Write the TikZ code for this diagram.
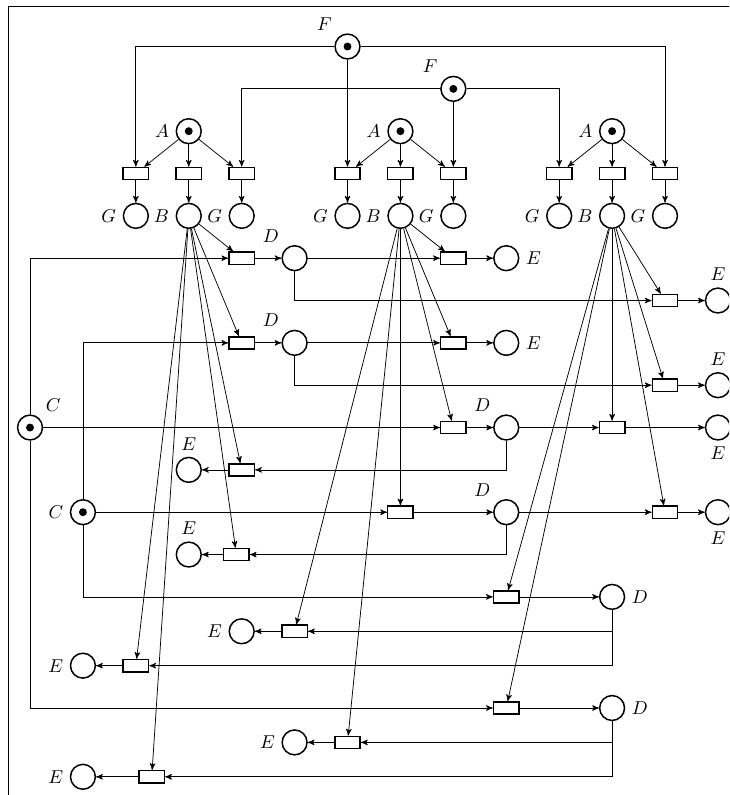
\documentclass[tikz,border=0pt]{standalone}
\usepackage{amsmath,amssymb}
\usepackage{tikz}
\usetikzlibrary{arrows}
\tikzstyle{place}=[circle, draw, thick, minimum size=4.7mm, inner sep=0pt]
\tikzstyle{transition}=[rectangle, draw, thick, minimum width=4.8mm,
minimum height=2.3mm, inner sep=0pt]
\tikzstyle{marked}=[path picture={\fill (path picture bounding box.center) circle (0.75mm);}]
\tikzstyle{flow}=[->,>=stealth']
\begin{document}
\begin{tikzpicture}
  \useasboundingbox (-0.567,0.879) rectangle (13.209,-14.144);
  \clip (-0.567,0.879) rectangle (13.209,-14.144);
  \draw (-0.416,0.752) rectangle (13.8,-14.8);
  % upper part: F, A, G, B
  \node [place, marked, label=above left:$F$] (f1) at (6,0) {};
  \node [place, marked, label=above left:$F$] (f2) at (8,-0.8) {};
  \foreach \i/\x in {1/3,2/7,3/11} {
    \node [place, marked, label=left:$A$] (a\i) at (\x,-1.6) {};
    \node [transition] (tl\i) at (\x-1,-2.4) {};
    \node [transition] (tm\i) at (\x,-2.4) {};
    \node [transition] (tr\i) at (\x+1,-2.4) {};
    \node [place, label=left:$G$] (gl\i) at (\x-1,-3.2) {};
    \node [place, label=left:$B$] (b\i) at (\x,-3.2) {};
    \node [place, label=left:$G$] (gr\i) at (\x+1,-3.2) {};
    \draw [flow] (a\i) -- (tl\i);
    \draw [flow] (a\i) -- (tm\i);
    \draw [flow] (a\i) -- (tr\i);
    \draw [flow] (tl\i) -- (gl\i);
    \draw [flow] (tm\i) -- (b\i);
    \draw [flow] (tr\i) -- (gr\i);
  }
  \draw [flow] (f1) -| (tl1);
  \draw [flow] (f1) -- (tl2);
  \draw [flow] (f1) -| (tr3);
  \draw [flow] (f2) -| (tr1);
  \draw [flow] (f2) -- (tr2);
  \draw [flow] (f2) -| (tl3);
  % lower part: C, D, E
  \node [place, marked, label=above right:$C$] (c1) at (0,-7.2) {};
  \node [place, marked, label=left:$C$] (c2) at (1,-8.8) {};
  \foreach \k/\xt/\xd/\y/\pos in {1/4/5/-4/above left, 2/4/5/-5.6/above left,
      3/8/9/-7.2/above left, 4/7/9/-8.8/above left, 5/9/11/-10.4/right,
      6/9/11/-12.5/right} {
    \node [transition] (td\k) at (\xt,\y) {};
    \node [place, label=\pos:$D$] (d\k) at (\xd,\y) {};
    \draw [flow] (td\k) -- (d\k);
  }
  % consumers of D
  \node [transition] (x1) at (8,-4) {};
  \node [place, label=right:$E$] (ex1) at (9,-4) {};
  \node [transition] (y1) at (12,-4.8) {};
  \node [place, label=above:$E$] (ey1) at (13,-4.8) {};
  \node [transition] (x2) at (8,-5.6) {};
  \node [place, label=right:$E$] (ex2) at (9,-5.6) {};
  \node [transition] (y2) at (12,-6.4) {};
  \node [place, label=above:$E$] (ey2) at (13,-6.4) {};
  \node [transition] (x3) at (11,-7.2) {};
  \node [place, label=below:$E$] (ex3) at (13,-7.2) {};
  \node [transition] (y3) at (4,-8) {};
  \node [place, label=above:$E$] (ey3) at (3,-8) {};
  \node [transition] (x4) at (12,-8.8) {};
  \node [place, label=below:$E$] (ex4) at (13,-8.8) {};
  \node [transition] (y4) at (3.9,-9.6) {};
  \node [place, label=above:$E$] (ey4) at (3,-9.6) {};
  \node [transition] (x5) at (5,-11.05) {};
  \node [place, label=left:$E$] (ex5) at (4,-11.05) {};
  \node [transition] (y5) at (2,-11.7) {};
  \node [place, label=left:$E$] (ey5) at (1,-11.7) {};
  \node [transition] (x6) at (6,-13.15) {};
  \node [place, label=left:$E$] (ex6) at (5,-13.15) {};
  \node [transition] (y6) at (2.3,-13.8) {};
  \node [place, label=left:$E$] (ey6) at (1,-13.8) {};
  \foreach \k in {1,...,6} {
    \draw [flow] (x\k) -- (ex\k);
    \draw [flow] (y\k) -- (ey\k);
    \draw [flow] (d\k) |- (y\k);
  }
  \foreach \k in {1,...,4}
    \draw [flow] (d\k) -- (x\k);
  \draw [flow] (d5) |- (x5);
  \draw [flow] (d6) |- (x6);
  \draw [flow] (c1) |- (td1);
  \draw [flow] (c1) -- (td3);
  \draw [flow] (c1) |- (td6);
  \draw [flow] (c2) |- (td2);
  \draw [flow] (c2) -- (td4);
  \draw [flow] (c2) |- (td5);
  % arcs from B
  \foreach \t in {td1,td2,y3,y4,y5,y6}
    \draw [flow] (b1) -- (\t);
  \foreach \t in {x1,x2,td3,td4,x5,x6}
    \draw [flow] (b2) -- (\t);
  \foreach \t in {y1,y2,x3,x4,td5,td6}
    \draw [flow] (b3) -- (\t);
\end{tikzpicture}
\end{document}
